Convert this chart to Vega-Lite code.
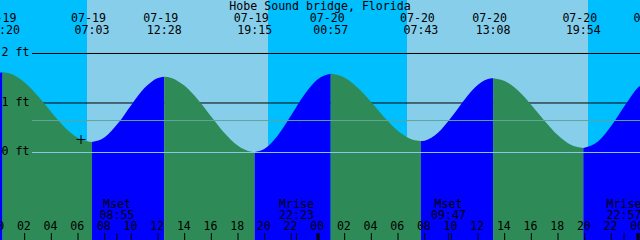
{
  "$schema": "https://vega.github.io/schema/vega-lite/v6.json",
  "width": 640,
  "height": 240,
  "padding": 0,
  "autosize": {"type": "none"},
  "background": "#ffffff",
  "config": {
    "view": {"stroke": null},
    "text": {"font": "DejaVu Sans Mono", "fontSize": 11.6, "color": "#000000", "align": "center", "baseline": "alphabetic"}
  },
  "resolve": {"scale": {"fill": "independent"}},
  "datasets": {
    "sky": [
      {"start": 0.15, "end": 6.675, "sky": "night"},
      {"start": 6.675, "end": 20.25, "sky": "day"},
      {"start": 20.25, "end": 30.675, "sky": "night"},
      {"start": 30.675, "end": 44.25, "sky": "day"},
      {"start": 44.25, "end": 48.15, "sky": "night"}
    ],
    "levels": [
      {"h": 2, "label": "2 ft", "kind": "grid"},
      {"h": 1, "label": "1 ft", "kind": "grid"},
      {"h": 0, "label": "0 ft", "kind": "datum"},
      {"h": 0.646, "label": "", "kind": "msl"}
    ],
    "tide": [
      {"t": 0.15, "h": 1.61, "seg": 1, "dir": "rise"},
      {"t": 0.333, "h": 1.62, "seg": 1, "dir": "rise"},
      {"t": 0.333, "h": 1.62, "seg": 2, "dir": "fall"},
      {"t": 1, "h": 1.586, "seg": 2, "dir": "fall"},
      {"t": 2, "h": 1.416, "seg": 2, "dir": "fall"},
      {"t": 3, "h": 1.139, "seg": 2, "dir": "fall"},
      {"t": 4, "h": 0.813, "seg": 2, "dir": "fall"},
      {"t": 5, "h": 0.509, "seg": 2, "dir": "fall"},
      {"t": 6, "h": 0.292, "seg": 2, "dir": "fall"},
      {"t": 7.05, "h": 0.21, "seg": 2, "dir": "fall"},
      {"t": 7.05, "h": 0.21, "seg": 3, "dir": "rise"},
      {"t": 8, "h": 0.308, "seg": 3, "dir": "rise"},
      {"t": 9, "h": 0.589, "seg": 3, "dir": "rise"},
      {"t": 10, "h": 0.962, "seg": 3, "dir": "rise"},
      {"t": 11, "h": 1.306, "seg": 3, "dir": "rise"},
      {"t": 12, "h": 1.506, "seg": 3, "dir": "rise"},
      {"t": 12.467, "h": 1.53, "seg": 3, "dir": "rise"},
      {"t": 12.467, "h": 1.53, "seg": 4, "dir": "fall"},
      {"t": 13, "h": 1.507, "seg": 4, "dir": "fall"},
      {"t": 14, "h": 1.346, "seg": 4, "dir": "fall"},
      {"t": 15, "h": 1.064, "seg": 4, "dir": "fall"},
      {"t": 16, "h": 0.72, "seg": 4, "dir": "fall"},
      {"t": 17, "h": 0.387, "seg": 4, "dir": "fall"},
      {"t": 18, "h": 0.135, "seg": 4, "dir": "fall"},
      {"t": 19, "h": 0.015, "seg": 4, "dir": "fall"},
      {"t": 19.25, "h": 0.01, "seg": 4, "dir": "fall"},
      {"t": 19.25, "h": 0.01, "seg": 5, "dir": "rise"},
      {"t": 20, "h": 0.077, "seg": 5, "dir": "rise"},
      {"t": 21, "h": 0.35, "seg": 5, "dir": "rise"},
      {"t": 22, "h": 0.757, "seg": 5, "dir": "rise"},
      {"t": 23, "h": 1.176, "seg": 5, "dir": "rise"},
      {"t": 24, "h": 1.484, "seg": 5, "dir": "rise"},
      {"t": 24.95, "h": 1.59, "seg": 5, "dir": "rise"},
      {"t": 24.95, "h": 1.59, "seg": 6, "dir": "fall"},
      {"t": 26, "h": 1.511, "seg": 6, "dir": "fall"},
      {"t": 27, "h": 1.304, "seg": 6, "dir": "fall"},
      {"t": 28, "h": 1.015, "seg": 6, "dir": "fall"},
      {"t": 29, "h": 0.703, "seg": 6, "dir": "fall"},
      {"t": 30, "h": 0.435, "seg": 6, "dir": "fall"},
      {"t": 31, "h": 0.268, "seg": 6, "dir": "fall"},
      {"t": 31.717, "h": 0.23, "seg": 6, "dir": "fall"},
      {"t": 31.717, "h": 0.23, "seg": 7, "dir": "rise"},
      {"t": 32, "h": 0.239, "seg": 7, "dir": "rise"},
      {"t": 33, "h": 0.398, "seg": 7, "dir": "rise"},
      {"t": 34, "h": 0.71, "seg": 7, "dir": "rise"},
      {"t": 35, "h": 1.073, "seg": 7, "dir": "rise"},
      {"t": 36, "h": 1.368, "seg": 7, "dir": "rise"},
      {"t": 37, "h": 1.498, "seg": 7, "dir": "rise"},
      {"t": 37.133, "h": 1.5, "seg": 7, "dir": "rise"},
      {"t": 37.133, "h": 1.5, "seg": 8, "dir": "fall"},
      {"t": 38, "h": 1.444, "seg": 8, "dir": "fall"},
      {"t": 39, "h": 1.251, "seg": 8, "dir": "fall"},
      {"t": 40, "h": 0.962, "seg": 8, "dir": "fall"},
      {"t": 41, "h": 0.638, "seg": 8, "dir": "fall"},
      {"t": 42, "h": 0.348, "seg": 8, "dir": "fall"},
      {"t": 43, "h": 0.151, "seg": 8, "dir": "fall"},
      {"t": 43.9, "h": 0.09, "seg": 8, "dir": "fall"},
      {"t": 43.9, "h": 0.09, "seg": 9, "dir": "rise"},
      {"t": 45, "h": 0.224, "seg": 9, "dir": "rise"},
      {"t": 46, "h": 0.539, "seg": 9, "dir": "rise"},
      {"t": 47, "h": 0.942, "seg": 9, "dir": "rise"},
      {"t": 48, "h": 1.313, "seg": 9, "dir": "rise"},
      {"t": 48.15, "h": 1.35, "seg": 9, "dir": "rise"}
    ],
    "events": [
      {"t": 0.333, "date": "07-19", "time": "00:20"},
      {"t": 7.05, "date": "07-19", "time": "07:03"},
      {"t": 12.467, "date": "07-19", "time": "12:28"},
      {"t": 19.25, "date": "07-19", "time": "19:15"},
      {"t": 24.95, "date": "07-20", "time": "00:57"},
      {"t": 31.717, "date": "07-20", "time": "07:43"},
      {"t": 37.133, "date": "07-20", "time": "13:08"},
      {"t": 43.9, "date": "07-20", "time": "19:54"},
      {"t": 49.24, "date": "07-21", "time": ""}
    ],
    "hours": [
      {"t": 0, "label": "00"}, {"t": 2, "label": "02"}, {"t": 4, "label": "04"}, {"t": 6, "label": "06"},
      {"t": 8, "label": "08"}, {"t": 10, "label": "10"}, {"t": 12, "label": "12"}, {"t": 14, "label": "14"},
      {"t": 16, "label": "16"}, {"t": 18, "label": "18"}, {"t": 20, "label": "20"}, {"t": 22, "label": "22"},
      {"t": 24, "label": "00"}, {"t": 26, "label": "02"}, {"t": 28, "label": "04"}, {"t": 30, "label": "06"},
      {"t": 32, "label": "08"}, {"t": 34, "label": "10"}, {"t": 36, "label": "12"}, {"t": 38, "label": "14"},
      {"t": 40, "label": "16"}, {"t": 42, "label": "18"}, {"t": 44, "label": "20"}, {"t": 46, "label": "22"},
      {"t": 48, "label": "00"}
    ],
    "moon": [
      {"t": 8.917, "event": "Mset", "time": "08:55"},
      {"t": 22.383, "event": "Mrise", "time": "22:23"},
      {"t": 33.783, "event": "Mset", "time": "09:47"},
      {"t": 46.95, "event": "Mrise", "time": "22:57"}
    ],
    "now": [
      {"t": 6.225, "h": 0.262}
    ],
    "title": [
      {"t": 24.15, "text": "Hobe Sound bridge, Florida"}
    ]
  },
  "layer": [
    {
      "data": {"name": "sky"},
      "mark": {"type": "rect", "opacity": 1},
      "encoding": {
        "x": {"field": "start", "type": "quantitative", "scale": {"domain": [0.15, 48.15], "nice": false, "zero": false}, "axis": null},
        "x2": {"field": "end"},
        "y": {"datum": 3.0808, "type": "quantitative", "scale": {"domain": [-1.7677, 3.0808], "nice": false, "zero": false}, "axis": null},
        "y2": {"datum": -1.7677},
        "fill": {"field": "sky", "type": "nominal", "scale": {"domain": ["night", "day"], "range": ["#00BFFF", "#87CEEB"]}, "legend": null}
      }
    },
    {
      "data": {"name": "levels"},
      "transform": [{"filter": "datum.kind == 'grid'"}],
      "mark": {"type": "rule", "strokeWidth": 1, "color": "#000000", "opacity": 1},
      "encoding": {
        "x": {"datum": 2.55, "type": "quantitative", "scale": {"domain": [0.15, 48.15], "nice": false, "zero": false}, "axis": null},
        "x2": {"datum": 48.15},
        "y": {"field": "h", "type": "quantitative", "scale": {"domain": [-1.7677, 3.0808], "nice": false, "zero": false}, "axis": null}
      }
    },
    {
      "data": {"name": "tide"},
      "mark": {"type": "area", "interpolate": "monotone", "clip": true, "opacity": 1, "fillOpacity": 1},
      "encoding": {
        "x": {"field": "t", "type": "quantitative", "scale": {"domain": [0.15, 48.15], "nice": false, "zero": false}, "axis": null},
        "y": {"field": "h", "type": "quantitative", "stack": null, "scale": {"domain": [-1.7677, 3.0808], "nice": false, "zero": false}, "axis": null},
        "y2": {"datum": -1.7677},
        "detail": {"field": "seg", "type": "nominal"},
        "fill": {"field": "dir", "type": "nominal", "scale": {"domain": ["rise", "fall"], "range": ["#0000FF", "#2E8B57"]}, "legend": null}
      }
    },
    {
      "data": {"name": "levels"},
      "transform": [{"filter": "datum.kind != 'grid'"}],
      "mark": {"type": "rule", "strokeWidth": 1, "opacity": 1},
      "encoding": {
        "x": {"datum": 2.55, "type": "quantitative", "scale": {"domain": [0.15, 48.15], "nice": false, "zero": false}, "axis": null},
        "x2": {"datum": 48.15},
        "y": {"field": "h", "type": "quantitative", "scale": {"domain": [-1.7677, 3.0808], "nice": false, "zero": false}, "axis": null},
        "stroke": {"field": "kind", "type": "nominal", "scale": {"domain": ["datum", "msl"], "range": ["#8CC8E8", "#5FA59B"]}, "legend": null}
      }
    },
    {
      "data": {"name": "now"},
      "mark": {"type": "point", "shape": "M-1,0H1M0,-1V1", "size": 81, "filled": false, "stroke": "#000000", "strokeWidth": 1, "opacity": 1},
      "encoding": {
        "x": {"field": "t", "type": "quantitative", "scale": {"domain": [0.15, 48.15], "nice": false, "zero": false}, "axis": null},
        "y": {"field": "h", "type": "quantitative", "scale": {"domain": [-1.7677, 3.0808], "nice": false, "zero": false}, "axis": null}
      }
    },
    {
      "data": {"name": "levels"},
      "transform": [{"filter": "datum.label != ''"}],
      "mark": {"type": "text", "align": "left", "baseline": "middle", "dx": 1.5},
      "encoding": {
        "x": {"datum": 0.15, "type": "quantitative", "scale": {"domain": [0.15, 48.15], "nice": false, "zero": false}, "axis": null},
        "y": {"field": "h", "type": "quantitative", "scale": {"domain": [-1.7677, 3.0808], "nice": false, "zero": false}, "axis": null},
        "text": {"field": "label"}
      }
    },
    {
      "data": {"name": "title"},
      "mark": {"type": "text"},
      "encoding": {
        "x": {"field": "t", "type": "quantitative", "scale": {"domain": [0.15, 48.15], "nice": false, "zero": false}, "axis": null},
        "y": {"datum": 2.869, "type": "quantitative", "scale": {"domain": [-1.7677, 3.0808], "nice": false, "zero": false}, "axis": null},
        "text": {"field": "text"}
      }
    },
    {
      "data": {"name": "events"},
      "mark": {"type": "text", "dx": -3.5},
      "encoding": {
        "x": {"field": "t", "type": "quantitative", "scale": {"domain": [0.15, 48.15], "nice": false, "zero": false}, "axis": null},
        "y": {"datum": 2.646, "type": "quantitative", "scale": {"domain": [-1.7677, 3.0808], "nice": false, "zero": false}, "axis": null},
        "text": {"field": "date"}
      }
    },
    {
      "data": {"name": "events"},
      "transform": [{"filter": "datum.time != ''"}],
      "mark": {"type": "text"},
      "encoding": {
        "x": {"field": "t", "type": "quantitative", "scale": {"domain": [0.15, 48.15], "nice": false, "zero": false}, "axis": null},
        "y": {"datum": 2.394, "type": "quantitative", "scale": {"domain": [-1.7677, 3.0808], "nice": false, "zero": false}, "axis": null},
        "text": {"field": "time"}
      }
    },
    {
      "data": {"name": "hours"},
      "mark": {"type": "text", "dx": -0.8},
      "encoding": {
        "x": {"field": "t", "type": "quantitative", "scale": {"domain": [0.15, 48.15], "nice": false, "zero": false}, "axis": null},
        "y": {"datum": -1.566, "type": "quantitative", "scale": {"domain": [-1.7677, 3.0808], "nice": false, "zero": false}, "axis": null},
        "text": {"field": "label"}
      }
    },
    {
      "data": {"name": "hours"},
      "transform": [{"filter": "datum.t % 24 != 0"}],
      "mark": {"type": "rule", "color": "#000000", "strokeWidth": 1},
      "encoding": {
        "x": {"field": "t", "type": "quantitative", "scale": {"domain": [0.15, 48.15], "nice": false, "zero": false}, "axis": null},
        "y": {"datum": -1.626, "type": "quantitative", "scale": {"domain": [-1.7677, 3.0808], "nice": false, "zero": false}, "axis": null},
        "y2": {"datum": -1.7677}
      }
    },
    {
      "data": {"name": "hours"},
      "transform": [{"filter": "datum.t % 24 == 0"}],
      "mark": {"type": "rule", "color": "#000000", "strokeWidth": 3},
      "encoding": {
        "x": {"field": "t", "type": "quantitative", "scale": {"domain": [0.15, 48.15], "nice": false, "zero": false}, "axis": null},
        "y": {"datum": -1.626, "type": "quantitative", "scale": {"domain": [-1.7677, 3.0808], "nice": false, "zero": false}, "axis": null},
        "y2": {"datum": -1.7677}
      }
    },
    {
      "data": {"name": "moon"},
      "mark": {"type": "rule", "color": "#000000", "strokeWidth": 1},
      "encoding": {
        "x": {"field": "t", "type": "quantitative", "scale": {"domain": [0.15, 48.15], "nice": false, "zero": false}, "axis": null},
        "y": {"datum": -1.626, "type": "quantitative", "scale": {"domain": [-1.7677, 3.0808], "nice": false, "zero": false}, "axis": null},
        "y2": {"datum": -1.7677}
      }
    },
    {
      "data": {"name": "moon"},
      "mark": {"type": "text"},
      "encoding": {
        "x": {"field": "t", "type": "quantitative", "scale": {"domain": [0.15, 48.15], "nice": false, "zero": false}, "axis": null},
        "y": {"datum": -1.121, "type": "quantitative", "scale": {"domain": [-1.7677, 3.0808], "nice": false, "zero": false}, "axis": null},
        "text": {"field": "event"}
      }
    },
    {
      "data": {"name": "moon"},
      "mark": {"type": "text"},
      "encoding": {
        "x": {"field": "t", "type": "quantitative", "scale": {"domain": [0.15, 48.15], "nice": false, "zero": false}, "axis": null},
        "y": {"datum": -1.343, "type": "quantitative", "scale": {"domain": [-1.7677, 3.0808], "nice": false, "zero": false}, "axis": null},
        "text": {"field": "time"}
      }
    }
  ]
}
